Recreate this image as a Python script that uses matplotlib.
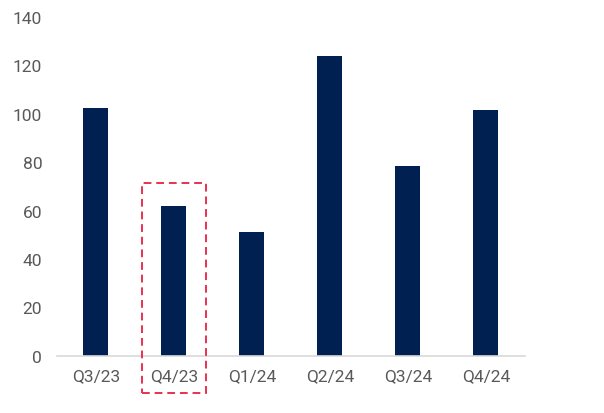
import matplotlib.pyplot as plt
from matplotlib.patches import Rectangle

quarters = ["Q3/23", "Q4/23", "Q1/24", "Q2/24", "Q3/24", "Q4/24"]
values = [102.5, 62, 51, 124, 78.5, 101.5]
highlight = "Q4/23"

BAR_COLOR = "#002052"
TEXT_COLOR = "#595959"

plt.rcParams["font.family"] = ["Roboto", "DejaVu Sans"]

fig = plt.figure(figsize=(6.04, 4.14), dpi=100)
ax = fig.add_axes([0.094, 0.138, 0.775, 0.8185])

x = list(range(len(quarters)))
ax.bar(x, values, width=0.32, color=BAR_COLOR)

ax.set_xlim(-0.5, len(quarters) - 0.5)
ax.set_ylim(0, 140)
ax.set_yticks(range(0, 141, 20))
ax.set_xticks(x)
ax.set_xticklabels(quarters)
ax.tick_params(axis="both", length=0, labelsize=12.5, labelcolor=TEXT_COLOR)
ax.tick_params(axis="x", pad=9)
ax.tick_params(axis="y", pad=10.5)

for side in ["top", "right", "left"]:
    ax.spines[side].set_visible(False)
ax.spines["bottom"].set_color("#d9d9d9")
ax.spines["bottom"].set_linewidth(1.2)

# dashed box around the highlighted quarter, bar and label
i = quarters.index(highlight)
box = Rectangle(
    (i - 0.41, -15.3), 0.82, 86.8,
    fill=False, edgecolor="#e8324f", linestyle=(0, (4, 2.5)), linewidth=1.4,
    clip_on=False, zorder=3,
)
ax.add_patch(box)

fig.savefig("out.png", dpi=100)
